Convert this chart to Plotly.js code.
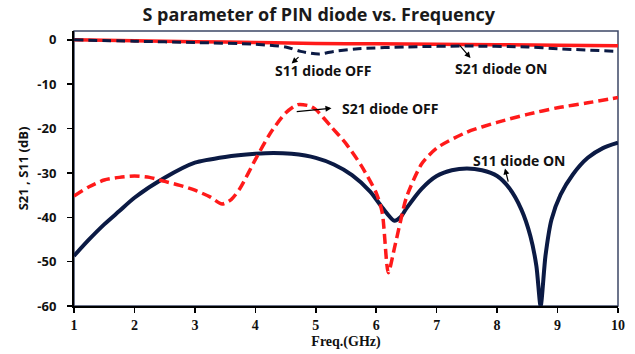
<!DOCTYPE html>
<html><head><meta charset="utf-8">
<script src="https://cdn.plot.ly/plotly-3.0.1.min.js"></script>
<style>html,body{margin:0;padding:0;background:#fff;}#chart{width:635px;height:354px;}</style>
</head><body><div id="chart"></div>
<script>
// S11 diode ON (navy solid)
const fS11on = [1,1.25,1.5,1.75,2,2.5,3,3.5,4,4.3,4.6,5,5.3,5.6,5.9,6.1,6.3,6.4,6.5,6.75,7,7.25,7.5,7.75,8,8.2,8.4,8.55,8.65,8.72,8.8,8.9,9.05,9.25,9.5,9.75,10];
const s11on  = [-48.7,-45,-41.6,-38.6,-35.6,-31.1,-27.7,-26.4,-25.7,-25.5,-25.7,-26.6,-28.1,-30.5,-34.2,-37.8,-40.8,-40,-38,-33.6,-30.7,-29.4,-29,-29.4,-30.7,-33.4,-38.2,-44.2,-51,-60,-48.7,-40.5,-34.9,-30.4,-26.6,-24.4,-23.2];
// S21 diode OFF (red dashed)
const fS21off = [1,1.25,1.5,1.75,2,2.25,2.5,2.75,3,3.25,3.45,3.6,3.75,4,4.25,4.5,4.7,4.9,5,5.25,5.5,5.75,6,6.1,6.2,6.3,6.4,6.5,6.75,7,7.5,8,8.5,9,9.5,10];
const s21off  = [-35.2,-33.1,-31.6,-31,-30.7,-31,-31.9,-32.8,-33.9,-35.4,-37,-36,-33.4,-27,-21,-16.5,-14.6,-14.9,-15.7,-19.5,-23.4,-28.3,-34.5,-39,-52.5,-47,-41,-35.5,-28,-24.4,-20.8,-18.6,-16.8,-15.3,-14.2,-13];
// S11 diode OFF (navy dashed)
const fS11off = [1,2,3,4,4.5,4.75,5.05,5.3,5.7,6.5,7.5,8.5,9,10];
const s11off  = [0,-0.3,-0.6,-1.0,-1.6,-2.6,-3.2,-2.6,-2.0,-1.6,-1.4,-1.6,-2.0,-2.6];
// S21 diode ON (red solid)
const fS21on = [1,2,3,4,5,6,7,8,9,10];
const s21on  = [0,-0.2,-0.4,-0.6,-0.8,-0.9,-1.0,-1.1,-1.2,-1.3];

const xTicks = [1,2,3,4,5,6,7,8,9,10];
const yTicks = [0,-10,-20,-30,-40,-50,-60];

const navy = '#0b1a44', red = '#ff1a1a';
const traces = [
  {x:fS11on, y:s11on, mode:'lines', line:{color:navy, width:4, shape:'spline', smoothing:0.7}, name:'S11 diode ON'},
  {x:fS21off, y:s21off, mode:'lines', line:{color:red, width:3.5, dash:'10px,5px', shape:'spline', smoothing:0.7}, name:'S21 diode OFF'},
  {x:fS21on, y:s21on, mode:'lines', line:{color:red, width:3.5, shape:'spline'}, name:'S21 diode ON'},
  {x:fS11off, y:s11off, mode:'lines', line:{color:navy, width:3, dash:'9px,5px', shape:'spline', smoothing:0.8}, name:'S11 diode OFF'}
];

const af = {family:'"Open Sans", sans-serif', size:14, color:'#111', weight:'bold'};
function lbl(x,y,t){return {x:x,y:y,xref:'x',yref:'y',text:t,showarrow:false,font:af};}
function arr(x,y,ax,ay){return {x:x,y:y,ax:ax,ay:ay,xref:'x',yref:'y',axref:'x',ayref:'y',text:'',showarrow:true,arrowhead:2,arrowsize:1,arrowwidth:1.2,arrowcolor:'#000'};}

const layout = {
  width:635, height:354,
  margin:{l:74, r:17, t:31, b:48},
  paper_bgcolor:'#fff', plot_bgcolor:'#fff',
  showlegend:false,
  title:{text:'S parameter of PIN diode vs. Frequency', font:{family:'"Open Sans", sans-serif', size:18, color:'#1a1a1a', weight:'bold'}, x:0.502, xanchor:'center', y:0.958, yanchor:'middle', yref:'container'},
  xaxis:{range:[1,10], tickvals:xTicks, ticktext:xTicks.map(String), showgrid:false, zeroline:false,
    showline:true, linecolor:'#000', linewidth:2, ticks:'outside', ticklen:5, tickwidth:1.5, tickcolor:'#000',
    tickfont:{family:'"Liberation Serif", serif', size:14, color:'#111', weight:'bold'},
    title:{text:'Freq.(GHz)', font:{family:'"Liberation Serif", serif', size:14, color:'#111', weight:'bold'}, standoff:4}},
  yaxis:{range:[-60,2], tickvals:yTicks, ticktext:yTicks.map(String), showgrid:false, zeroline:false,
    showline:true, linecolor:'#000', linewidth:2, ticks:'outside', ticklen:5, tickwidth:1.5, tickcolor:'#000',
    ticklabelstandoff:8,
    tickfont:{family:'"Open Sans", sans-serif', size:13, color:'#111', weight:'bold'},
    title:{text:'S21 , S11 (dB)', font:{family:'"Open Sans", sans-serif', size:13, color:'#111', weight:'bold'}, standoff:6}},
  shapes:[{type:'rect', xref:'paper', yref:'paper', x0:0, x1:1, y0:0, y1:1, line:{color:'#3c4766', width:1.5}, layer:'below'}],
  annotations:[
    lbl(5.12,-7,'S11 diode OFF'), arr(4.6,-5.3,4.74,-3.6),
    lbl(8.07,-6.5,'S21 diode ON'), arr(7.56,-4.1,7.36,-0.9),
    lbl(6.23,-15.4,'S21 diode OFF'), arr(5.26,-15.4,4.66,-16.2),
    lbl(8.37,-27.3,'S11 diode ON'), arr(8.13,-29,8.19,-32.3)
  ]
};
Plotly.newPlot('chart', traces, layout, {staticPlot:true, displayModeBar:false});
</script></body></html>
